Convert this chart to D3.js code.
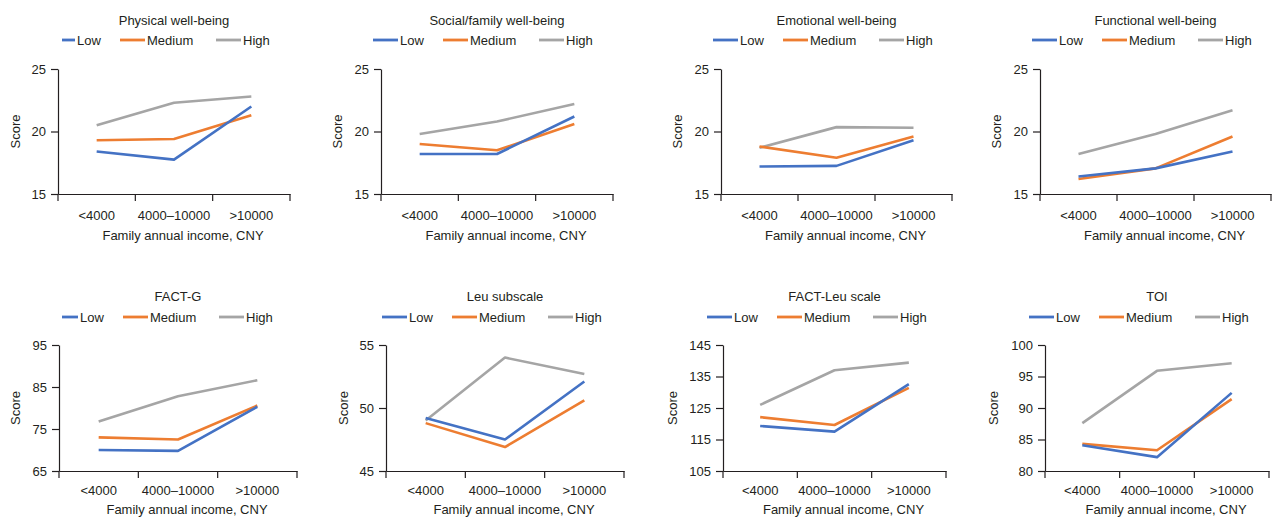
<!DOCTYPE html>
<html>
<head>
<meta charset="utf-8">
<script src="https://cdn.jsdelivr.net/npm/d3@7"></script>
<style>
  html, body { margin: 0; padding: 0; background: #fff; }
  svg { display: block; font-family: "Liberation Sans", Arial, Helvetica, sans-serif; }
  text { fill: #231f20; }
</style>
</head>
<body>
<svg id="chart" width="1273" height="519"></svg>
<script>
// ---------- data ----------
const categories = ["<4000", "4000\u201310000", ">10000"];
const seriesNames = ["Low", "Medium", "High"];
const seriesColors = ["#4472C4", "#ED7D31", "#A5A5A5"];
const panelTitles = ["Physical well-being", "Social/family well-being", "Emotional well-being", "Functional well-being",
                     "FACT-G", "Leu subscale", "FACT-Leu scale", "TOI"];
const yDomains = [[15, 25], [15, 25], [15, 25], [15, 25], [65, 95], [45, 55], [105, 145], [80, 100]];
const yTickValues = [[15, 20, 25], [15, 20, 25], [15, 20, 25], [15, 20, 25],
                     [65, 75, 85, 95], [45, 50, 55], [105, 115, 125, 135, 145], [80, 85, 90, 95, 100]];
// values per panel: [Low, Medium, High], each over categories
const physicalWB   = [[18.4, 17.75, 22.0], [19.3, 19.4, 21.3], [20.5, 22.3, 22.8]];
const socialWB     = [[18.2, 18.2, 21.2], [19.0, 18.5, 20.6], [19.8, 20.8, 22.2]];
const emotionalWB  = [[17.2, 17.25, 19.3], [18.8, 17.9, 19.6], [18.7, 20.35, 20.3]];
const functionalWB = [[16.4, 17.05, 18.4], [16.2, 17.05, 19.6], [18.2, 19.8, 21.7]];
const factG        = [[70.0, 69.8, 80.3], [73.0, 72.5, 80.6], [76.8, 82.8, 86.6]];
const leuSubscale  = [[49.2, 47.5, 52.1], [48.8, 46.9, 50.6], [49.0, 54.0, 52.7]];
const factLeu      = [[119.3, 117.5, 132.6], [122.1, 119.6, 131.4], [126.0, 137.0, 139.4]];
const toi          = [[84.1, 82.2, 92.4], [84.3, 83.3, 91.4], [87.6, 95.9, 97.1]];
const panelValues = [physicalWB, socialWB, emotionalWB, functionalWB, factG, leuSubscale, factLeu, toi];
const xAxisTitle = "Family annual income, CNY";
const yAxisTitle = "Score";

// ---------- layout ----------
const layout = [
  { x0: 58,   x1: 290,  y0: 69,  y1: 194, legX: 50,   titleY: 20,  legY: 40,  scoreDx: 43, lowInset: 12, tp: 17, xt: 41 },
  { x0: 381,  x1: 613,  y0: 69,  y1: 194, legX: 373,  titleY: 20,  legY: 40,  scoreDx: 44, lowInset: 0,  tp: 17, xt: 41 },
  { x0: 721,  x1: 952,  y0: 69,  y1: 194, legX: 713,  titleY: 20,  legY: 40,  scoreDx: 44, lowInset: 0,  tp: 17, xt: 41 },
  { x0: 1040, x1: 1271, y0: 69,  y1: 194, legX: 1032, titleY: 20,  legY: 40,  scoreDx: 44, lowInset: 0,  tp: 17, xt: 41 },
  { x0: 59,   x1: 297,  y0: 345, y1: 471, legX: 53,   titleY: 296, legY: 317, scoreDx: 44, lowInset: 9,  tp: 15, xt: 38 },
  { x0: 386,  x1: 624,  y0: 345, y1: 471, legX: 382,  titleY: 296, legY: 317, scoreDx: 43, lowInset: 0,  tp: 15, xt: 38 },
  { x0: 723,  x1: 946,  y0: 345, y1: 471, legX: 707,  titleY: 296, legY: 317, scoreDx: 51, lowInset: 0,  tp: 15, xt: 38 },
  { x0: 1045, x1: 1269, y0: 345, y1: 471, legX: 1029, titleY: 296, legY: 317, scoreDx: 52, lowInset: 0,  tp: 15, xt: 38 }
];
const FS = 13;
const axisColor = "#231f20";

const svg = d3.select("#chart");

panelValues.forEach((vals, i) => {
  const L = layout[i];
  const g = svg.append("g");
  const x = d3.scaleBand().domain(categories).range([L.x0, L.x1]).padding(0);
  const y = d3.scaleLinear().domain(yDomains[i]).range([L.y1, L.y0]);

  // title
  g.append("text").attr("x", (L.x0 + L.x1) / 2).attr("y", L.titleY)
    .attr("text-anchor", "middle").attr("dominant-baseline", "central")
    .style("font-size", FS + "px").text(panelTitles[i]);

  // legend
  const legOffsets = [0, 70, 166];
  seriesNames.forEach((s, k) => {
    const lx = L.legX + legOffsets[k];
    const inset = k === 0 ? L.lowInset : 0;
    g.append("line").attr("x1", lx + inset).attr("x2", lx + 25).attr("y1", L.legY).attr("y2", L.legY)
      .attr("stroke", seriesColors[k]).attr("stroke-width", 2.8);
    g.append("text").attr("x", lx + 27).attr("y", L.legY).attr("dominant-baseline", "central")
      .style("font-size", FS + "px").text(s);
  });

  // y axis
  const yAxis = d3.axisLeft(y).tickValues(yTickValues[i]).tickSize(7).tickPadding(5).tickSizeOuter(0);
  const ya = g.append("g").attr("transform", `translate(${L.x0},0)`).call(yAxis);
  ya.select(".domain").attr("stroke", axisColor).attr("stroke-width", 1.2);
  ya.selectAll(".tick line").attr("stroke", axisColor).attr("stroke-width", 1.2);
  ya.selectAll(".tick text").style("font-size", FS + "px").style("font-family", "Liberation Sans, Arial, sans-serif").attr("fill", axisColor);

  // x axis: labels at band centers
  const xAxis = d3.axisBottom(x).tickSize(0).tickPadding(L.tp).tickSizeOuter(0);
  const xa = g.append("g").attr("transform", `translate(0,${L.y1})`).call(xAxis);
  xa.select(".domain").attr("stroke", axisColor).attr("stroke-width", 1.2);
  xa.selectAll(".tick text").style("font-size", FS + "px").style("font-family", "Liberation Sans, Arial, sans-serif").attr("fill", axisColor);
  // boundary tick marks
  const bounds = categories.map(c => x(c)).concat([x.range()[1]]);
  g.selectAll(null).data(bounds).enter().append("line")
    .attr("x1", d => d).attr("x2", d => d).attr("y1", L.y1).attr("y2", L.y1 + 7)
    .attr("stroke", axisColor).attr("stroke-width", 1.2);

  // axis titles
  g.append("text").attr("x", (L.x0 + L.x1) / 2 + 9).attr("y", L.y1 + L.xt)
    .attr("text-anchor", "middle").attr("dominant-baseline", "central")
    .style("font-size", FS + "px").text(xAxisTitle);
  g.append("text")
    .attr("transform", `translate(${L.x0 - L.scoreDx},${(L.y0 + L.y1) / 2}) rotate(-90)`)
    .attr("text-anchor", "middle").attr("dominant-baseline", "central")
    .style("font-size", FS + "px").text(yAxisTitle);

  // lines (High drawn first so Low/Medium on top)
  const line = d3.line().x((d, j) => x(categories[j]) + x.bandwidth() / 2).y(d => y(d));
  [2, 1, 0].forEach(k => {
    g.append("path").datum(vals[k]).attr("d", line).attr("fill", "none")
      .attr("stroke", seriesColors[k]).attr("stroke-width", 2.6).attr("stroke-linejoin", "round");
  });
});
</script>
</body>
</html>
